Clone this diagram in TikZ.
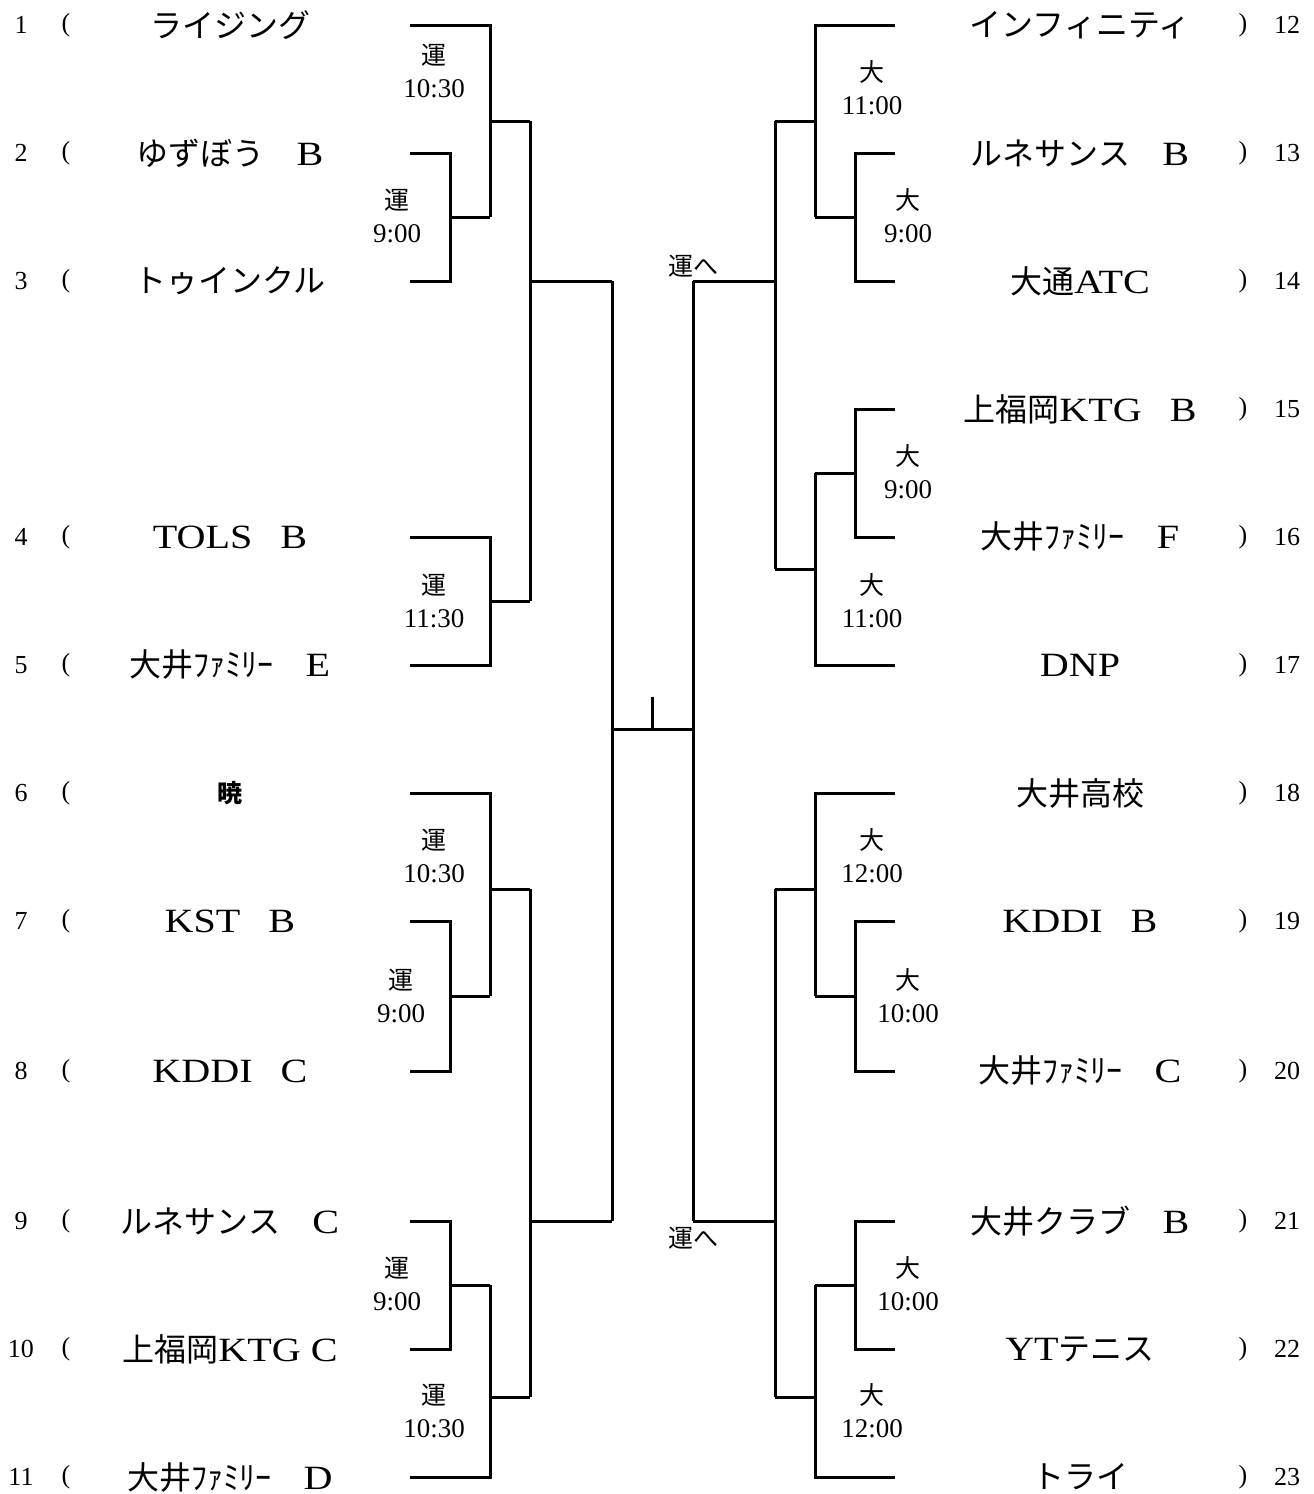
\documentclass[tikz,border=0pt]{standalone}
\usepackage{fontspec}
\setmainfont{Liberation Serif}
\newfontfamily\jp{Noto Sans CJK JP}
\newfontfamily\latf[FakeStretch=1.18]{Liberation Serif}
\newcommand\lt[1]{{\latf\fontsize{34}{34}\selectfont #1}}
\newcommand\kj[1]{{\jp\fontsize{25}{25}\selectfont #1}}
\tikzset{
  br/.style={line width=3pt, line join=miter, line cap=butt},
  team/.style={font=\jp\fontsize{32}{32}\selectfont, anchor=center, inner sep=0pt},
  num/.style={font=\fontsize{26}{26}\selectfont, anchor=center, inner sep=0pt},
  tm/.style={font=\fontsize{27}{33}\selectfont, align=center, anchor=center, inner sep=0pt},
}
\begin{document}
\begin{tikzpicture}[x=1pt,y=-1pt]
\useasboundingbox (0,0) rectangle (1314,1494);
% ---- numbers and brackets
\foreach \n/\y in {1/25,2/153,3/281,4/537,5/665,6/793,7/921,8/1071,9/1221,10/1349,11/1477}{
  \node[num] (ln\n) at (21,\y) {\n};
  \node[num] (lp\n) at (66,\y) {(};
}
\foreach \n/\y in {12/25,13/153,14/281,15/409,16/537,17/665,18/793,19/921,20/1071,21/1221,22/1349,23/1477}{
  \node[num] (rn\n) at (1287,\y) {\n};
  \node[num] (rp\n) at (1243,\y) {)};
}
% ---- team names
\node[team] (t1) at (230,25) {ライジング};
\node[team] (t2) at (230,153) {ゆずぼう　\lt{B}};
\node[team] (t3) at (230,281) {トゥインクル};
\node[team] (t4) at (230,537) {\lt{TOLS}\hspace{28pt}\lt{B}};
\node[team] (t5) at (230,665) {大井ﾌｧﾐﾘｰ　\lt{E}};
\node[team, font=\jp\bfseries\fontsize{25}{25}\selectfont] (t6) at (230,793) {暁};
\node[team] (t7) at (230,921) {\lt{KST}\hspace{28pt}\lt{B}};
\node[team] (t8) at (230,1071) {\lt{KDDI}\hspace{28pt}\lt{C}};
\node[team] (t9) at (230,1221) {ルネサンス　\lt{C}};
\node[team] (t10) at (230,1349) {上福岡\lt{KTG C}};
\node[team] (t11) at (230,1477) {大井ﾌｧﾐﾘｰ　\lt{D}};
\node[team] (t12) at (1080,25) {インフィニティ};
\node[team] (t13) at (1080,153) {ルネサンス　\lt{B}};
\node[team] (t14) at (1080,281) {大通\lt{ATC}};
\node[team] (t15) at (1080,409) {上福岡\lt{KTG}\hspace{28pt}\lt{B}};
\node[team] (t16) at (1080,537) {大井ﾌｧﾐﾘｰ　\lt{F}};
\node[team] (t17) at (1080,665) {\lt{DNP}};
\node[team] (t18) at (1080,793) {大井高校};
\node[team] (t19) at (1080,921) {\lt{KDDI}\hspace{28pt}\lt{B}};
\node[team] (t20) at (1080,1071) {大井ﾌｧﾐﾘｰ　\lt{C}};
\node[team] (t21) at (1080,1221) {大井クラブ　\lt{B}};
\node[team] (t22) at (1080,1349) {\lt{YT}テニス};
\node[team] (t23) at (1080,1477) {トライ};
% ---- time labels
\node[tm] (m1) at (434,71) {\kj{運}\\10:30};
\node[tm] (m2) at (397,216) {\kj{運}\\9:00};
\node[tm] (m3) at (434,601) {\kj{運}\\11:30};
\node[tm] (m4) at (434,856) {\kj{運}\\10:30};
\node[tm] (m5) at (401,996) {\kj{運}\\9:00};
\node[tm] (m6) at (397,1284) {\kj{運}\\9:00};
\node[tm] (m7) at (434,1411) {\kj{運}\\10:30};
\node[tm] (m8) at (872,88) {\kj{大}\\11:00};
\node[tm] (m9) at (908,216) {\kj{大}\\9:00};
\node[tm] (m10) at (908,472) {\kj{大}\\9:00};
\node[tm] (m11) at (872,601) {\kj{大}\\11:00};
\node[tm] (m12) at (872,856) {\kj{大}\\12:00};
\node[tm] (m13) at (908,996) {\kj{大}\\10:00};
\node[tm] (m14) at (908,1284) {\kj{大}\\10:00};
\node[tm] (m15) at (872,1411) {\kj{大}\\12:00};
\node[tm] (h1) at (693,266) {\kj{運へ}};
\node[tm] (h2) at (693,1238) {\kj{運へ}};
% ---- left brackets
\draw[br] (410,153) -- (450,153) -- (450,281) -- (410,281);
\draw[br] (450,217) -- (490,217);
\draw[br] (410,25) -- (490,25) -- (490,217);
\draw[br] (490,121) -- (530,121);
\draw[br] (410,537) -- (490,537) -- (490,665) -- (410,665);
\draw[br] (490,601) -- (530,601);
\draw[br] (530,121) -- (530,601);
\draw[br] (530,281) -- (612,281);
\draw[br] (410,921) -- (450,921) -- (450,1071) -- (410,1071);
\draw[br] (450,996) -- (490,996);
\draw[br] (410,793) -- (490,793) -- (490,996);
\draw[br] (490,889) -- (530,889);
\draw[br] (410,1221) -- (450,1221) -- (450,1349) -- (410,1349);
\draw[br] (450,1285) -- (490,1285);
\draw[br] (410,1477) -- (490,1477) -- (490,1285);
\draw[br] (490,1397) -- (530,1397);
\draw[br] (530,889) -- (530,1397);
\draw[br] (530,1221) -- (612,1221);
\draw[br] (612,281) -- (612,1221);
% ---- centre
\draw[br] (612,729) -- (693,729);
\draw[br] (652,729) -- (652,697);
\draw[br] (693,281) -- (693,1221);
% ---- right brackets
\draw[br] (895,153) -- (855,153) -- (855,281) -- (895,281);
\draw[br] (855,217) -- (815,217);
\draw[br] (895,25) -- (815,25) -- (815,217);
\draw[br] (815,121) -- (775,121);
\draw[br] (895,409) -- (855,409) -- (855,537) -- (895,537);
\draw[br] (855,473) -- (815,473);
\draw[br] (895,665) -- (815,665) -- (815,473);
\draw[br] (815,569) -- (775,569);
\draw[br] (775,121) -- (775,569);
\draw[br] (775,281) -- (693,281);
\draw[br] (895,921) -- (855,921) -- (855,1071) -- (895,1071);
\draw[br] (855,996) -- (815,996);
\draw[br] (895,793) -- (815,793) -- (815,996);
\draw[br] (815,889) -- (775,889);
\draw[br] (895,1221) -- (855,1221) -- (855,1349) -- (895,1349);
\draw[br] (855,1285) -- (815,1285);
\draw[br] (895,1477) -- (815,1477) -- (815,1285);
\draw[br] (815,1397) -- (775,1397);
\draw[br] (775,889) -- (775,1397);
\draw[br] (775,1221) -- (693,1221);
\end{tikzpicture}
\end{document}
